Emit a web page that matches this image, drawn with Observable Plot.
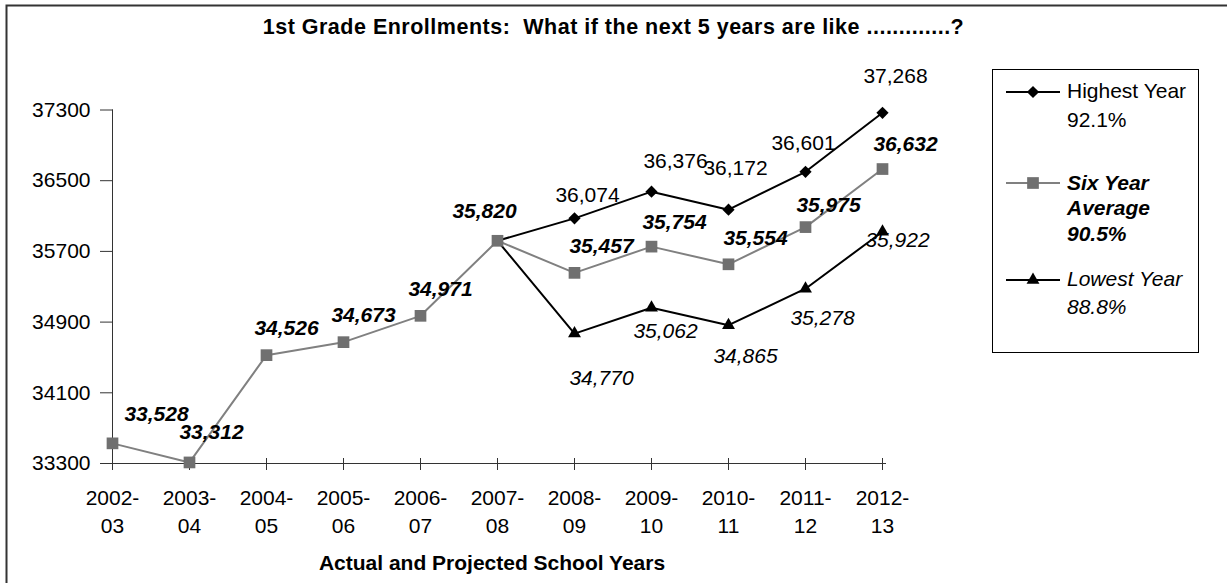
<!DOCTYPE html>
<html>
<head>
<meta charset="utf-8">
<script src="https://cdn.jsdelivr.net/npm/d3@7"></script>
<script src="https://cdn.jsdelivr.net/npm/@observablehq/plot@0.6"></script>
<style>
  body { margin: 0; background: #fff; font-family: "Liberation Sans", Arial, sans-serif; color: #000; }
  #wrap { position: relative; width: 1227px; height: 583px; overflow: hidden; background: #fff; }
  #wrap svg { position: absolute; left: 0; top: 0; }
  .title { position: absolute; left: 0; width: 1227px; top: 14px; line-height: 27px; text-align: center;
           font-weight: bold; font-size: 21.5px; letter-spacing: 0.5px; white-space: pre; }
  .xtitle { position: absolute; left: 0; width: 984px; top: 549px; line-height: 27px; text-align: center;
            font-weight: bold; font-size: 21px; }
</style>
</head>
<body>
<div id="wrap"></div>
<script>
// ---- data ----
const years = ["2002-03","2003-04","2004-05","2005-06","2006-07","2007-08","2008-09","2009-10","2010-11","2011-12","2012-13"];
const sixYearAvg = [33528, 33312, 34526, 34673, 34971, 35820, 35457, 35754, 35554, 35975, 36632];
const highestYear = [null, null, null, null, null, 35820, 36074, 36376, 36172, 36601, 37268];
const lowestYear  = [null, null, null, null, null, 35820, 34770, 35062, 34865, 35278, 35922];
const yTicks = [33300, 34100, 34900, 35700, 36500, 37300];
const titleText = "1st Grade Enrollments:  What if the next 5 years are like .............?";
const xTitleText = "Actual and Projected School Years";
const legendHighest = ["Highest Year", "92.1%"];
const legendAverage = ["Six Year", "Average", "90.5%"];
const legendLowest = ["Lowest Year", "88.8%"];

// ---- build ----
const W = 1227, H = 583;
const fmt = d3.format(",");
const rows = arr => years.map((y, i) => ({year: y, value: arr[i], i})).filter(d => d.value != null);
const avgRows = rows(sixYearAvg), hiRows = rows(highestYear), loRows = rows(lowestYear);

// label offsets (layout)
const avgOff = {0:[44,-29],1:[22,-30],2:[20,-27],3:[20,-27],4:[20,-27],5:[-13,-30],6:[27,-27],7:[23,-24],8:[27,-26],9:[23,-22],10:[23,-25]};
const hiOff = {6:[13,-23],7:[24,-30],8:[7,-41],9:[-2,-29],10:[13,-37]};
const loOff = {6:[27,45],7:[14,23],8:[17,31],9:[17,30],10:[15,8]};
function labels(rs, off, style) {
  return rs.filter(d => off[d.i]).map(d => Plot.text([d], {
    x: "year", y: "value", text: r => fmt(r.value),
    dx: off[d.i][0], dy: off[d.i][1], fill: "#000", fontSize: 21, ...style
  }));
}

const chart = Plot.plot({
  width: W, height: H,
  marginLeft: 107, marginRight: W - 886, marginTop: 109.5, marginBottom: 120,
  x: {type: "point", domain: years, padding: 0},
  y: {domain: [33300, 37300]},
  style: {fontFamily: "'Liberation Sans', Arial, sans-serif", fontSize: "21px", color: "#000", background: "transparent", overflow: "visible"},
  marks: [
    Plot.ruleX([years[0]], {y1: 33300, y2: 37300, stroke: "#333", strokeWidth: 1}),
    Plot.ruleY([33300], {stroke: "#333", strokeWidth: 1}),
    Plot.axisY({ticks: yTicks, tickSize: 13, dx: 6, tickPadding: 10, tickFormat: d => String(d), label: null, stroke: "#333", fontSize: 21}),
    Plot.axisX({tickSize: 12, dy: -5, tickPadding: 15, tickFormat: d => d.replace("-", "-\n"), lineHeight: 1.33, label: null, stroke: "#333", fontSize: 21}),
    Plot.line(avgRows, {x: "year", y: "value", stroke: "#808080", strokeWidth: 2}),
    Plot.line(hiRows, {x: "year", y: "value", stroke: "#000", strokeWidth: 2}),
    Plot.line(loRows, {x: "year", y: "value", stroke: "#000", strokeWidth: 2}),
    Plot.dot(hiRows.filter(d => d.i > 5), {x: "year", y: "value", symbol: "diamond2", r: 5.5, fill: "#000", stroke: "none"}),
    Plot.dot(loRows.filter(d => d.i > 5), {x: "year", y: "value", symbol: "triangle", r: 4.8, fill: "#000", stroke: "none"}),
    Plot.dot(avgRows, {x: "year", y: "value", symbol: "square", r: 6.6, fill: "#707070", stroke: "none"}),
    ...labels(avgRows, avgOff, {fontWeight: "bold", fontStyle: "italic"}),
    ...labels(hiRows, hiOff, {}),
    ...labels(loRows, loOff, {fontStyle: "italic"})
  ]
});

const wrap = document.getElementById("wrap");
wrap.appendChild(chart);

// title and axis title
const t = document.createElement("div"); t.className = "title"; t.textContent = titleText; wrap.appendChild(t);
const xt = document.createElement("div"); xt.className = "xtitle"; xt.textContent = xTitleText; wrap.appendChild(xt);

// frame + legend overlay
const ov = d3.select(wrap).append("svg").attr("width", W).attr("height", H)
  .style("font-family", "'Liberation Sans', Arial, sans-serif").style("font-size", "21px");
ov.append("path").attr("d", `M6.5,${H + 5}V5.5H${W + 5}`).attr("fill", "none").attr("stroke", "#333").attr("stroke-width", 2);
ov.append("rect").attr("x", 992.5).attr("y", 69.5).attr("width", 206).attr("height", 283)
  .attr("fill", "#fff").attr("stroke", "#000").attr("stroke-width", 1);

const entries = [
  {lines: legendHighest, ly: 92, stroke: "#000", sym: d3.symbolDiamond2, r: 5.5, fill: "#000", weight: "normal", style: "normal", base: 97.5, lh: 29},
  {lines: legendAverage, ly: 183, stroke: "#808080", sym: d3.symbolSquare, r: 6.6, fill: "#707070", weight: "bold", style: "italic", base: 189.5, lh: 25.5},
  {lines: legendLowest, ly: 280, stroke: "#000", sym: d3.symbolTriangle, r: 4.8, fill: "#000", weight: "normal", style: "italic", base: 285.5, lh: 28}
];
for (const e of entries) {
  ov.append("line").attr("x1", 1006).attr("x2", 1060).attr("y1", e.ly).attr("y2", e.ly)
    .attr("stroke", e.stroke).attr("stroke-width", 2);
  ov.append("path").attr("d", d3.symbol(e.sym, Math.PI * e.r * e.r)())
    .attr("transform", `translate(1033,${e.ly})`).attr("fill", e.fill);
  e.lines.forEach((s, k) => {
    ov.append("text").attr("x", 1067).attr("y", e.base + k * e.lh)
      .attr("font-weight", e.weight).attr("font-style", e.style).attr("fill", "#000").text(s);
  });
}
</script>
</body>
</html>
